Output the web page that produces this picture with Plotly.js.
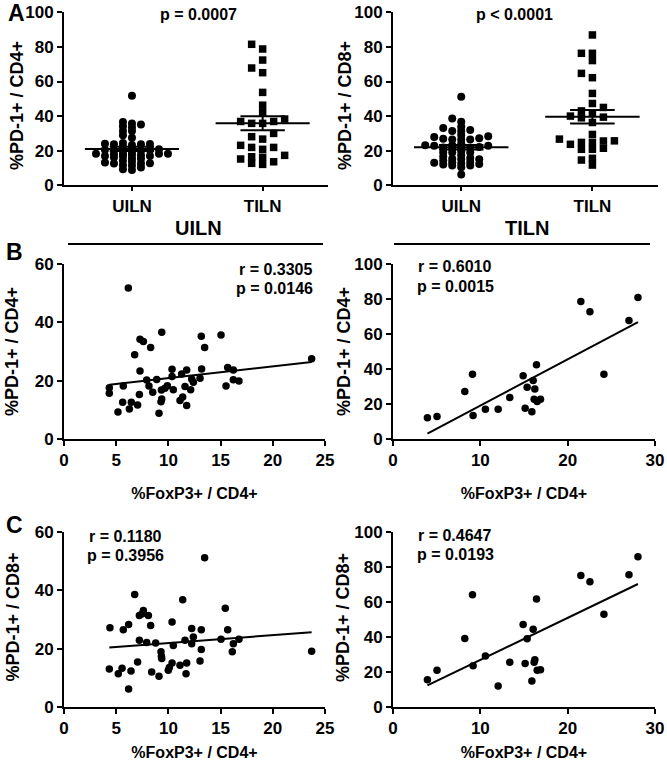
<!DOCTYPE html>
<html>
<head>
<meta charset="utf-8">
<script src="https://cdn.plot.ly/plotly-3.0.1.min.js"></script>
<style>
  html, body { margin: 0; padding: 0; background: #fff; }
  #chart { width: 667px; height: 761px; }
</style>
</head>
<body>
<div id="chart"></div>
<script>
// values

const groups = ['UILN', 'TILN'];

// uninvolved LN: PD-1+ of CD4+ vs FoxP3+ of CD4+ (panel B left, also the UILN column of A left)
const uilnFoxp3B = [6.16, 9.36, 7.28, 7.6, 8.3, 6.77, 13.15, 13.47, 15.04, 23.72,
  4.34, 4.34, 5.68, 5.62, 5.17, 6.26, 6.45, 7.05, 7.22, 7.28,
  7.92, 8.14, 8.5, 8.88, 9.1, 9.29, 9.36, 9.33, 9.67, 9.9,
  10.35, 10.35, 10.47, 11.11, 11.27, 11.37, 11.59, 11.75, 11.75, 12.13,
  12.23, 12.39, 13.03, 13.18, 15.52, 15.68, 16.22, 16.22, 16.76];
const uilnPd1Cd4 = [51.8, 36.6, 34.2, 33.4, 31.4, 28.9, 35.2, 31.4, 35.7, 27.5,
  17.6, 15.7, 18.2, 12.6, 9.3, 10.3, 12.6, 11.7, 15.3, 23.3,
  20.2, 18.2, 16.0, 20.4, 8.8, 12.8, 13.7, 16.8, 17.4, 18.3,
  23.9, 21.4, 16.9, 13.2, 22.3, 14.4, 18.0, 23.7, 11.5, 16.9,
  20.6, 19.5, 20.8, 24.0, 18.2, 24.5, 23.7, 20.3, 19.9];

// uninvolved LN: PD-1+ of CD8+ vs FoxP3+ of CD4+ (panel C left, also the UILN column of A right)
const uilnFoxp3C = [4.4, 4.34, 5.2, 5.56, 5.68, 6.19, 6.19, 6.42, 6.77, 7.05,
  7.22, 7.22, 7.6, 7.5, 8.08, 7.92, 8.3, 8.4, 8.78, 9.1,
  9.29, 9.33, 9.36, 9.99, 10.09, 10.35, 10.35, 10.47, 11.11, 11.37,
  11.59, 11.75, 11.69, 12.23, 12.23, 12.39, 13.15, 13.15, 13.03, 13.47,
  15.04, 15.45, 15.68, 16.12, 16.22, 16.76, 23.72];
const uilnPd1Cd8 = [27.2, 13.0, 11.4, 13.3, 26.5, 28.3, 6.2, 12.3, 38.6, 15.4,
  22.9, 31.4, 33.1, 32.0, 31.4, 22.1, 27.9, 12.0, 21.9, 10.5,
  18.9, 17.4, 16.6, 12.6, 13.5, 15.1, 29.1, 21.1, 14.3, 36.8,
  22.9, 15.1, 11.4, 26.9, 21.7, 24.0, 26.5, 19.7, 15.8, 51.2,
  23.2, 33.9, 26.5, 18.9, 21.7, 23.2, 19.1];

// tumour-invaded LN, all samples (panel A, squares)
const tilnPd1Cd4All = [78.8, 81.5, 72.4, 67.8, 65.1, 53.7, 46.3, 42.1, 36.9, 35.8,
  35.8, 36.9, 38.3, 28.1, 30.0, 26.7, 23.1, 21.9, 20.8, 21.9,
  17.3, 16.2, 15.2, 16.5, 13.6, 12.1, 12.7];
const tilnPd1Cd8All = [86.9, 76.3, 76.3, 72.1, 64.7, 62.2, 53.1, 47.3, 43.0, 45.0,
  40.0, 39.0, 39.4, 41.9, 36.3, 29.4, 25.7, 24.8, 23.7, 26.7,
  24.8, 25.6, 20.8, 20.8, 21.4, 15.6, 14.6, 11.7];

// tumour-invaded LN with FoxP3 data (panels B and C right)
const tilnFoxp3 = [3.94, 5.04, 8.22, 9.1, 9.17, 10.58, 12.04, 13.37, 14.9, 15.13,
  15.36, 15.9, 16.05, 16.16, 16.24, 16.43, 16.51, 16.89, 21.51, 22.55,
  24.15, 27.02, 28.05];
const tilnPd1Cd4 = [12.2, 12.8, 27.1, 37.0, 13.5, 17.0, 17.0, 23.7, 36.1, 17.6,
  29.6, 15.6, 33.4, 22.7, 28.6, 42.4, 21.4, 22.7, 78.6, 72.7,
  37.0, 67.7, 80.9];
const tilnPd1Cd8 = [15.6, 21.0, 39.2, 64.2, 23.6, 29.1, 12.0, 25.5, 47.2, 24.8,
  39.0, 14.9, 44.4, 25.5, 27.0, 61.7, 21.0, 21.3, 75.2, 71.6,
  53.0, 75.6, 85.9];

const pTexts = ['p = 0.0007', 'p < 0.0001'];
const corrTexts = [
  ['r = 0.3305', 'p = 0.0146'],
  ['r = 0.6010', 'p = 0.0015'],
  ['r = 0.1180', 'p = 0.3956'],
  ['r = 0.4647', 'p = 0.0193']
];
const yTitles = ['%PD-1+ / CD4+', '%PD-1+ / CD8+'];
const xTitle = '%FoxP3+ / CD4+';

const FONT = '"Liberation Sans", Arial, sans-serif';
const W = 667, H = 761;
const px = x => x / W;
const py = y => 1 - y / H;

// plot frames in page pixels: left, right, top, bottom
const frames = {
  aL: [64, 328, 12.3, 185.3],
  aR: [393, 658, 12.3, 185.3],
  bL: [64, 325, 264, 439],
  bR: [393, 655, 264, 439],
  cL: [64, 325, 532, 707],
  cR: [393, 655, 532, 707]
};
const catRange = [-0.52, 1.5];

// prism-like scatter dot plot: points closer than rowH px vertically
// must sit at least colW px apart horizontally; if the column gets
// wider than maxHalf, the row height is relaxed for that point
function swarmOffsets(values, yPx, colW, rowH, maxHalf) {
  const order = values.map((v, i) => i).sort((a, b) => values[a] - values[b]);
  const placed = [];
  const offs = new Array(values.length);
  order.forEach(i => {
    const y = values[i] * yPx;
    let off = 0, rh = rowH, found = false;
    while (!found) {
      for (let k = 0; k <= 2 * maxHalf; k++) {
        off = (k % 2 === 1 ? -1 : 1) * Math.ceil(k / 2);
        const hit = placed.some(p => Math.abs(p.y - y) < rh && Math.abs(p.x - off) < colW);
        if (!hit) { found = true; break; }
      }
      rh = rh / 2;
      if (rh < 0.5) { found = true; off = 0; }
    }
    placed.push({ x: off, y: y });
    offs[i] = off;
  });
  return offs;
}

function dotColumn(values, idx, frame, symbol, size, spread, xa, ya) {
  const yPx = (frame[3] - frame[2]) / 100;
  const xPx = (frame[1] - frame[0]) / (catRange[1] - catRange[0]);
  const offs = swarmOffsets(values, yPx, spread[0], spread[1], spread[2]);
  return {
    type: 'scatter', mode: 'markers', xaxis: xa, yaxis: ya, cliponaxis: false,
    x: offs.map(o => idx + o / xPx), y: values,
    marker: { symbol: symbol, size: size, color: '#000' },
    hoverinfo: 'y'
  };
}

function meanSem(values, idx, xa, ya) {
  const n = values.length;
  const m = values.reduce((a, b) => a + b, 0) / n;
  const sd = Math.sqrt(values.reduce((a, b) => a + (b - m) * (b - m), 0) / (n - 1));
  const se = sd / Math.sqrt(n);
  const w = 0.36, c = 0.17;
  return {
    type: 'scatter', mode: 'lines', xaxis: xa, yaxis: ya, cliponaxis: false,
    x: [idx - w, idx + w, null, idx - c, idx + c, null, idx - c, idx + c, null, idx, idx],
    y: [m, m, null, m + se, m + se, null, m - se, m - se, null, m - se, m + se],
    line: { color: '#000', width: 2 }, hoverinfo: 'skip'
  };
}

function scatterPts(xs, ys, xa, ya) {
  return {
    type: 'scatter', mode: 'markers', xaxis: xa, yaxis: ya, cliponaxis: false,
    x: xs, y: ys, marker: { symbol: 'circle', size: 7.5, color: '#000' }
  };
}

function fitLine(xs, ys, xa, ya) {
  const n = xs.length;
  const mx = xs.reduce((a, b) => a + b, 0) / n;
  const my = ys.reduce((a, b) => a + b, 0) / n;
  let sxy = 0, sxx = 0;
  for (let i = 0; i < n; i++) {
    sxy += (xs[i] - mx) * (ys[i] - my);
    sxx += (xs[i] - mx) * (xs[i] - mx);
  }
  const b = sxy / sxx, a = my - b * mx;
  const x0 = Math.min(...xs), x1 = Math.max(...xs);
  return {
    type: 'scatter', mode: 'lines', xaxis: xa, yaxis: ya,
    x: [x0, x1], y: [a + b * x0, a + b * x1],
    line: { color: '#000', width: 2 }, hoverinfo: 'skip'
  };
}

const uilnSpread = [8.5, 3.2, 38];   // column gap, row height, max half width (px)
const tilnSpread = [10.5, 6.5, 34];

const data = [
  dotColumn(uilnPd1Cd4, 0, frames.aL, 'circle', 8, uilnSpread, 'x', 'y'),
  dotColumn(tilnPd1Cd4All, 1, frames.aL, 'square', 7.5, tilnSpread, 'x', 'y'),
  meanSem(uilnPd1Cd4, 0, 'x', 'y'),
  meanSem(tilnPd1Cd4All, 1, 'x', 'y'),

  dotColumn(uilnPd1Cd8, 0, frames.aR, 'circle', 8, uilnSpread, 'x2', 'y2'),
  dotColumn(tilnPd1Cd8All, 1, frames.aR, 'square', 7.5, tilnSpread, 'x2', 'y2'),
  meanSem(uilnPd1Cd8, 0, 'x2', 'y2'),
  meanSem(tilnPd1Cd8All, 1, 'x2', 'y2'),

  scatterPts(uilnFoxp3B, uilnPd1Cd4, 'x3', 'y3'),
  fitLine(uilnFoxp3B, uilnPd1Cd4, 'x3', 'y3'),
  scatterPts(tilnFoxp3, tilnPd1Cd4, 'x4', 'y4'),
  fitLine(tilnFoxp3, tilnPd1Cd4, 'x4', 'y4'),

  scatterPts(uilnFoxp3C, uilnPd1Cd8, 'x5', 'y5'),
  fitLine(uilnFoxp3C, uilnPd1Cd8, 'x5', 'y5'),
  scatterPts(tilnFoxp3, tilnPd1Cd8, 'x6', 'y6'),
  fitLine(tilnFoxp3, tilnPd1Cd8, 'x6', 'y6')
];

const tickFont = { family: FONT, size: 17, color: '#000', weight: 'bold' };
const base = {
  showline: true, linecolor: '#000', linewidth: 2,
  ticks: 'outside', ticklen: 5, tickwidth: 2, tickcolor: '#000',
  showgrid: false, zeroline: false, fixedrange: true, tickfont: tickFont
};
const xTitleObj = standoff => ({ text: xTitle, standoff: standoff, font: { family: FONT, size: 16, color: '#000', weight: 'bold' } });

const xDom = f => [px(f[0]), px(f[1])];
const yDom = f => [py(f[3]), py(f[2])];

const catAxis = f => Object.assign({}, base, {
  domain: xDom(f), range: catRange, tickvals: [0, 1], ticktext: groups, ticklen: 4
});

const layout = {
  width: W, height: H,
  margin: { l: 0, r: 0, t: 0, b: 0 },
  paper_bgcolor: '#fff', plot_bgcolor: 'rgba(0,0,0,0)',
  showlegend: false,
  font: { family: FONT, color: '#000' },

  xaxis: Object.assign(catAxis(frames.aL), { anchor: 'y' }),
  yaxis: Object.assign({}, base, { domain: yDom(frames.aL), range: [0, 100], dtick: 20, anchor: 'x' }),
  xaxis2: Object.assign(catAxis(frames.aR), { anchor: 'y2' }),
  yaxis2: Object.assign({}, base, { domain: yDom(frames.aR), range: [0, 100], dtick: 20, anchor: 'x2' }),

  xaxis3: Object.assign({}, base, { domain: xDom(frames.bL), range: [0, 25], dtick: 5, anchor: 'y3', title: xTitleObj(18) }),
  yaxis3: Object.assign({}, base, { domain: yDom(frames.bL), range: [0, 60], dtick: 20, anchor: 'x3' }),
  xaxis4: Object.assign({}, base, { domain: xDom(frames.bR), range: [0, 30], dtick: 10, anchor: 'y4', title: xTitleObj(18) }),
  yaxis4: Object.assign({}, base, { domain: yDom(frames.bR), range: [0, 100], dtick: 20, anchor: 'x4' }),

  xaxis5: Object.assign({}, base, { domain: xDom(frames.cL), range: [0, 25], dtick: 5, anchor: 'y5', title: xTitleObj(19) }),
  yaxis5: Object.assign({}, base, { domain: yDom(frames.cL), range: [0, 60], dtick: 20, anchor: 'x5' }),
  xaxis6: Object.assign({}, base, { domain: xDom(frames.cR), range: [0, 30], dtick: 10, anchor: 'y6', title: xTitleObj(19) }),
  yaxis6: Object.assign({}, base, { domain: yDom(frames.cR), range: [0, 100], dtick: 20, anchor: 'x6' }),

  shapes: [
    { type: 'line', xref: 'paper', yref: 'paper', x0: px(68), x1: px(323), y0: py(244), y1: py(244), line: { color: '#000', width: 2 } },
    { type: 'line', xref: 'paper', yref: 'paper', x0: px(394), x1: px(650), y0: py(244), y1: py(244), line: { color: '#000', width: 2 } }
  ],
  annotations: []
};

function note(text, x, y, size, xanchor, angle) {
  layout.annotations.push({
    text: text, xref: 'paper', yref: 'paper', x: px(x), y: py(y),
    xanchor: xanchor || 'center', yanchor: 'middle', showarrow: false,
    textangle: angle || 0,
    font: { family: FONT, size: size, color: '#000', weight: 'bold' }
  });
}

// panel letters
note('A', 16, 13, 23);
note('B', 14.5, 252, 23);
note('C', 14.5, 525, 23);
// group tests
note(pTexts[0], 198.5, 15, 16);
note(pTexts[1], 514, 15, 16);
// column headers over the correlation plots
note(groups[0], 199, 228, 20);
note(groups[1], 527, 228, 20);
// y axis titles
note(yTitles[0], 17, 106, 18, 'center', -90);
note(yTitles[1], 345, 106, 18, 'center', -90);
note(yTitles[0], 12, 352, 18, 'center', -90);
note(yTitles[0], 344, 352, 18, 'center', -90);
note(yTitles[1], 12.5, 617, 18, 'center', -90);
note(yTitles[1], 343, 617, 18, 'center', -90);
// correlation stats
note(corrTexts[0][0], 315, 269, 16, 'right');
note(corrTexts[0][1], 315, 288, 16, 'right');
note(corrTexts[1][0], 416, 266, 16, 'left');
note(corrTexts[1][1], 415, 286, 16, 'left');
note(corrTexts[2][0], 87, 536, 16, 'left');
note(corrTexts[2][1], 85, 555, 16, 'left');
note(corrTexts[3][0], 416, 535, 16, 'left');
note(corrTexts[3][1], 415, 554, 16, 'left');

Plotly.newPlot('chart', data, layout, { displayModeBar: false, staticPlot: true });
</script>
</body>
</html>
